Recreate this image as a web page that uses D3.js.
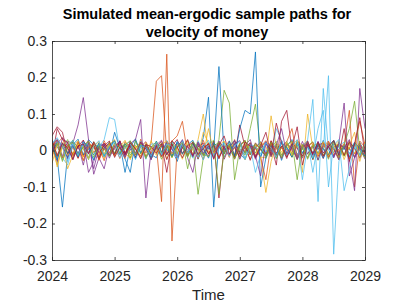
<!DOCTYPE html>
<html>
<head>
<meta charset="utf-8">
<script src="https://cdn.jsdelivr.net/npm/d3@7"></script>
<style>
  html, body { margin: 0; padding: 0; background: #fff; }
  svg { display: block; font-family: "Liberation Sans", Arial, Helvetica, sans-serif; }
</style>
</head>
<body>
<svg id="chart" width="403" height="305"></svg>
<script>
// ---------- data ----------
const titleLines = ["Simulated mean-ergodic sample paths for", "velocity of money"];
const xLabel = "Time";
const xTickValues = [2024, 2025, 2026, 2027, 2028, 2029];
const xTickLabels = ["2024", "2025", "2026", "2027", "2028", "2029"];
const yTickValues = [-0.3, -0.2, -0.1, 0, 0.1, 0.2, 0.3];
const yTickLabels = ["-0.3", "-0.2", "-0.1", "0", "0.1", "0.2", "0.3"];
const seriesColors = ["#0072BD", "#D95319", "#EDB120", "#7E2F8E", "#77AC30", "#4DBEEE", "#A2142F"];
const startYear = 2024, nSteps = 61; // monthly observations
const time = d3.range(nSteps).map(i => startYear + i / 12);

const path00 = [.012,-.02,-.155,-.01,.025,.008,-.012,.03,.015,-.018, .005,.022,-.01,.018,-.06,.01,.032,-.008,.014,-.022, .009,-.015,.027,.004,-.03,.016,-.005,.021,-.012,.035, .146,-.155,.02,-.018,.011,.026,-.009,-.024,.013,.007, -.016,.024,-.003,.019,-.027,.012,.03,-.011,.006,-.02, .017,-.008,.028,-.014,.009,-.023,.015,.004,-.019,.022, -.006];
const path01 = [-.015,.02,.035,-.01,.008,-.022,.014,.026,-.005,.01, -.028,.017,.003,-.012,.024,.009,-.018,.031,-.007,.02, .19,.205,-.01,.015,-.02,.008,.027,-.013,.004,-.025, .018,-.006,.022,.011,-.019,.03,-.01,.007,-.024,.016, .005,-.014,.026,-.02,.012,.003,-.017,.023,-.009,.019, -.026,.011,.006,-.015,.028,-.004,.017,.11,-.1,.02, -.012];
const path02 = [.03,-.045,.01,.018,-.012,.022,-.027,.006,.015,-.01, .02,-.016,.009,.025,-.008,-.021,.013,.004,-.019,.027, -.006,.014,-.023,.01,.019,-.011,.028,-.015,.03,.1, -.005,.012,-.02,.024,.007,-.013,.018,-.026,.009,.015, -.018,-.02,.095,.01,-.012,.02,-.007,.016,-.06,.1, .005,-.017,.022,-.009,.013,.027,-.014,.006,.018,-.011, .024];
const path03 = [.02,.01,-.015,.025,.02,.07,.145,.03,-.065,-.02, -.05,.012,-.008,.02,-.014,.026,.005,-.019,.01,-.025, .016,-.003,.021,-.012,.008,.03,-.016,.011,-.022,.014, .004,.025,-.018,.009,-.011,.019,.027,-.008,.015,-.024, .01,-.006,.022,-.015,.028,-.01,.013,.006,-.021,.017, -.013,.024,-.007,.011,-.02,.015,.009,-.025,-.11,.17, .06];
const path04 = [-.01,.018,-.025,.006,.029,-.014,.011,-.02,.024,.004, -.017,.013,.027,-.009,.02,-.012,.007,.023,-.018,.01, .015,-.024,.006,.019,-.011,.026,-.05,.014,-.12,-.02, .012,-.016,.03,.165,.13,-.08,.005,-.013,.021,-.007, .018,-.022,.009,.025,-.014,.011,-.019,.028,.003,-.01, .016,-.027,.013,.02,-.006,.024,-.015,.008,.019,-.012, .01];
const path05 = [.018,.03,-.02,-.04,.012,-.008,.022,.015,-.025,.009, .03,.09,.085,0,-.016,.02,-.011,.026,.004,-.021, .013,-.007,.024,-.018,.01,.028,-.013,.006,.017,-.026, .008,.021,-.014,.003,.027,-.02,.015,-.009,.012,-.017, .025,-.004,.018,-.023,.011,.007,-.015,.022,-.01,.029, .14,-.14,.17,0,-.018,.013,.023,-.008,.016,-.022, .005];
const path06 = [.04,.065,.05,-.01,.015,-.02,.028,-.006,.012,-.023, .02,.005,-.015,.027,-.009,.016,-.021,.011,.024,-.013, .007,.019,-.025,.012,.03,-.008,.014,-.018,.022,.003, -.016,.026,-.13,.01,-.012,.021,-.005,.017,-.027,.009, .023,-.011,.015,-.04,.08,.11,0,-.019,.012,.026, -.014,.008,-.022,.018,.004,-.026,.013,.02,-.009,.015, -.018];
const path07 = [-.008,.024,.01,-.02,.016,.031,-.012,.005,-.027,.019, .011,-.015,.05,.007,-.023,-.06,.028,-.006,.018,-.011, -.02,.012,.004,-.017,.025,.009,-.013,.02,-.024,.015, .006,0,.23,-.01,.018,-.022,.013,.027,-.008,.01, -.018,.021,.003,-.014,.026,-.009,.017,-.025,.011,.02, -.006,.016,-.021,.012,.028,-.013,.007,-.019,.023,.004, -.015];
const path08 = [.025,-.012,.018,.006,-.02,.013,-.028,.02,.009,-.015, .027,-.006,.014,-.022,.01,.019,-.011,.024,-.017,.005, .012,-.14,.264,-.248,.01,.021,-.007,.016,-.023,.028, -.01,.015,-.019,.008,.026,-.013,.019,-.004,.022,-.016, .011,.027,-.012,.006,-.021,.017,.009,-.025,.014,.02, -.008,.018,-.015,.024,.003,-.02,.012,.007,-.017,.026, .009];
const path09 = [-.035,.015,.022,-.014,.009,.027,-.018,.012,-.006,.02, -.022,.016,.03,-.01,.013,-.025,.008,.021,.005,-.016, .024,-.009,.017,-.02,.011,.026,-.015,.004,.019,-.012, .06,-.007,.014,-.023,.018,.01,-.019,.025,-.004,.013, -.021,-.115,-.03,.019,.007,-.013,.024,-.017,.01,.022, -.024,.015,.006,-.018,.021,.011,-.012,.027,-.009,.017, -.02];
const path10 = [.01,-.03,.035,.02,-.025,.015,-.04,.022,-.05,.008, .017,-.021,.012,.025,-.01,.019,.03,.085,-.13,0, .014,-.016,.023,-.008,.011,.027,-.02,-.06,.018,-.013, .021,-.005,.016,-.024,.009,.028,-.011,.014,.03,-.018, .007,.024,-.014,.012,-.022,.019,.003,-.016,.025,-.009, .013,-.026,.018,.01,-.015,.02,.13,-.07,-.02,.016, -.008];
const path11 = [.022,-.018,.01,.03,-.012,.02,.005,-.025,.016,.009, -.014,.024,-.007,.018,.012,-.02,.027,-.01,.015,-.023, .008,.02,-.013,.026,-.006,.011,-.019,.023,.004,-.015, .017,.028,-.12,0,.012,-.017,.021,-.008,.06,.127, 0,-.014,.02,-.022,.009,.025,-.011,.016,-.018,.013, .024,-.01,.007,-.024,.018,.011,-.016,.022,.005,-.013, .019];
const path12 = [.005,.025,-.017,.012,.028,-.01,.018,-.022,.008,.015, -.012,.021,.006,-.019,.014,.026,-.008,.011,-.024,.017, .02,-.011,.009,.024,-.016,.013,.003,-.021,.027,-.007, .015,-.018,.01,.022,-.013,.019,.006,-.025,.016,.011, -.009,.023,-.015,.06,.028,-.012,.017,-.02,.012,.026, -.06,.02,0,.205,-.284,-.03,.015,-.01,.022,-.014, .008];
const path13 = [-.02,.06,.03,.022,-.015,.012,.028,-.008,.017,-.024, .009,.019,-.013,.026,-.006,.014,-.02,.023,.004,-.017, .011,.025,-.012,.018,-.021,.007,.03,-.014,.01,.02, -.009,.016,-.023,.013,.005,-.018,.07,.01,-.012,.021, .003,-.016,.027,-.007,.012,-.022,.019,.008,-.015,.025, -.011,.014,.021,-.019,.009,.017,-.013,.024,.006,-.02, .012];
const path14 = [.015,-.025,.02,-.008,.013,-.018,.024,.01,-.012,.021, -.016,.007,.027,-.011,.018,.004,-.022,.015,.009,-.019, .026,-.005,.012,-.017,.022,-.01,.016,.028,-.014,.006, -.021,.019,.011,-.008,.025,-.015,.06,.11,.1,.27, -.1,-.02,.014,-.012,.02,.008,-.018,.023,-.006,.011, -.024,.017,.005,-.013,.026,-.009,.012,-.019,.021,.007, -.016];
const path15 = [.012,.03,-.02,.015,-.01,.024,-.016,.008,.02,-.027, .006,-.013,.019,.011,-.022,.025,.003,-.015,.017,-.008, .021,-.018,.01,.026,.04,.08,-.012,.014,-.02,.009, .018,-.011,.023,-.006,.013,-.024,.016,.027,-.01,.005, -.019,-.08,.02,-.015,.008,.024,.06,-.021,.015,.01, .022,-.016,.011,.026,-.012,.004,.019,-.023,.013,.08, .015];
const path16 = [.008,-.04,.015,-.05,-.012,.018,.005,-.022,.013,.024, -.009,.02,-.016,.011,.028,-.007,.014,-.02,.022,.006, -.013,.017,.025,-.01,.009,-.024,.019,.012,-.015,.05, .02,-.008,.014,.026,-.017,.011,-.021,.016,.007,-.012, .023,.01,-.018,.015,-.005,.021,-.014,.028,.012,-.02, .017,-.011,.024,-.016,.008,.019,-.025,.013,.05,-.03, .02];
const path17 = [-.005,.03,.012,-.022,.016,-.009,.025,-.06,-.03,.011, .019,-.014,.007,.024,-.018,.013,-.006,.021,.01,-.025, .015,.028,-.011,.006,-.02,.017,.009,-.016,.023,-.008, .012,-.021,.026,.004,-.013,.018,-.024,.011,.02,-.015, -.07,.022,-.017,.014,.06,-.01,.016,-.023,.009,.019, -.012,.025,-.007,.013,-.019,.021,.005,.03,-.02,.01, -.024];
const path18 = [.01,.02,-.03,.014,.022,-.011,.008,.026,-.019,.013, .004,-.016,.021,-.008,.015,.027,-.012,.018,-.022,.009, .024,-.006,.016,-.019,.011,.02,-.014,.025,.007,-.01, -.017,.013,.022,-.009,.017,-.023,.01,.028,-.012,.019, .006,-.015,.023,.011,-.02,.014,.026,-.08,.017,-.024, .012,.02,-.013,.008,.025,-.018,.015,.06,.135,0, -.02];
const path19 = [.02,.035,.01,-.03,.018,-.014,.024,-.009,.012,.027, -.018,.011,.022,-.013,.006,.019,-.025,.014,.008,-.016, .023,-.01,.017,.012,-.021,.026,-.007,.015,-.019,.01, .028,-.012,.005,.02,-.016,.013,.024,-.022,.009,-.06, -.011,.021,.007,-.018,.025,-.014,.012,.03,-.08,.015, -.02,.06,.11,-.1,.016,.03,-.11,-.05,.01,-.012, .018];
const path20 = [.03,-.015,.02,.008,-.025,.012,.018,-.01,.024,-.006, .013,.026,-.019,.009,-.012,.021,.005,-.023,.016,.011, -.008,.018,-.06,.027,.01,-.02,.013,.022,-.011,.006, .019,-.024,.015,.04,-.01,.008,-.017,.023,.012,-.02, .014,.05,-.013,.075,.02,-.018,.01,.065,-.04,.016, -.009,.022,-.016,.011,.027,-.014,.06,-.03,.018,.09, -.01];

const paths = [path00, path01, path02, path03, path04, path05, path06, path07, path08, path09, path10,
               path11, path12, path13, path14, path15, path16, path17, path18, path19, path20];
paths.forEach((p, k) => { if (p.length !== nSteps) throw new Error("path" + k + " has " + p.length); });

// ---------- layout ----------
const plot = { left: 52, right: 365, top: 41, bottom: 260 };
const axisColor = "#262626";

const svg = d3.select("#chart");
const x = d3.scaleLinear().domain([2024, 2029]).range([plot.left, plot.right]);
const y = d3.scaleLinear().domain([-0.3, 0.3]).range([plot.bottom, plot.top]);

svg.append("defs").append("clipPath").attr("id", "clip")
  .append("rect").attr("x", plot.left).attr("y", plot.top)
  .attr("width", plot.right - plot.left).attr("height", plot.bottom - plot.top);

// lines
const line = d3.line().x((d, i) => x(time[i])).y(d => y(d));
svg.append("g").attr("clip-path", "url(#clip)")
  .selectAll("path").data(paths).join("path")
  .attr("d", line)
  .attr("fill", "none")
  .attr("stroke", (d, k) => seriesColors[k % seriesColors.length])
  .attr("stroke-width", 0.75)
  .attr("stroke-linejoin", "round");

// axes
function styleAxis(g) {
  g.selectAll(".domain").attr("stroke", axisColor).attr("stroke-width", 0.8);
  g.selectAll(".tick line").attr("stroke", axisColor).attr("stroke-width", 0.8);
  g.selectAll(".tick text").attr("fill", axisColor).attr("font-size", 14)
    .attr("font-family", "'Liberation Sans', Arial, Helvetica, sans-serif");
}
const tickLen = 3;
svg.append("g").attr("transform", `translate(0,${plot.bottom})`)
  .call(d3.axisBottom(x).tickValues(xTickValues).tickFormat((d, i) => xTickLabels[i])
        .tickSizeInner(-tickLen).tickSizeOuter(0).tickPadding(11))
  .call(styleAxis);
svg.append("g").attr("transform", `translate(0,${plot.top})`)
  .call(d3.axisTop(x).tickValues(xTickValues).tickFormat("")
        .tickSizeInner(-tickLen).tickSizeOuter(0))
  .call(styleAxis);
svg.append("g").attr("transform", `translate(${plot.left},0)`)
  .call(d3.axisLeft(y).tickValues(yTickValues).tickFormat((d, i) => yTickLabels[i])
        .tickSizeInner(-tickLen).tickSizeOuter(0).tickPadding(5))
  .call(styleAxis);
svg.append("g").attr("transform", `translate(${plot.right},0)`)
  .call(d3.axisRight(y).tickValues(yTickValues).tickFormat("")
        .tickSizeInner(-tickLen).tickSizeOuter(0))
  .call(styleAxis);

// x label
svg.append("text").attr("x", (plot.left + plot.right) / 2).attr("y", 300)
  .attr("text-anchor", "middle").attr("font-size", 15).attr("fill", axisColor)
  .text(xLabel);

// title
svg.append("g").selectAll("text").data(titleLines).join("text")
  .attr("x", (plot.left + plot.right) / 2 - 1.5)
  .attr("y", (d, i) => 18.5 + i * 18)
  .attr("text-anchor", "middle").attr("font-size", 14.5).attr("font-weight", "bold")
  .attr("fill", "#000").text(d => d);
</script>
</body>
</html>
